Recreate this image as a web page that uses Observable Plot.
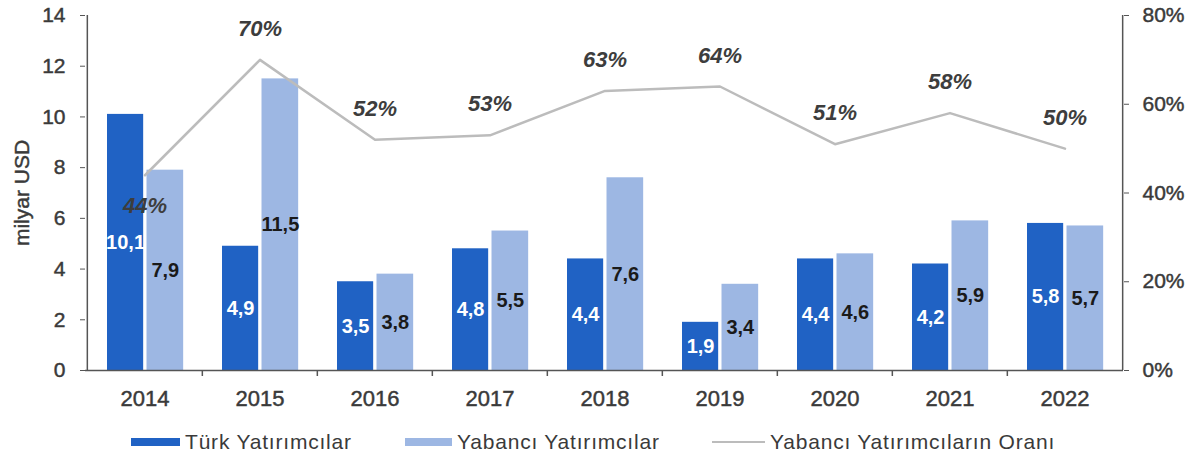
<!DOCTYPE html>
<html><head><meta charset="utf-8">
<script src="https://cdn.jsdelivr.net/npm/d3@7"></script>
<script src="https://cdn.jsdelivr.net/npm/@observablehq/plot@0.6"></script>
<style>
body{margin:0;background:#fff;font-family:"Liberation Sans",Arial,sans-serif;}
#wrap{position:relative;width:1200px;height:463px;overflow:hidden;}
#legend .item{position:absolute;top:430px;height:24px;display:flex;align-items:center;font-size:21px;color:#3a3a3a;letter-spacing:0.8px;white-space:nowrap;}
#legend .sw{display:inline-block;margin-right:5px;}
svg [aria-label$="tick label"] text, svg [aria-label$="axis label"] text {stroke:#3a3a3a;stroke-width:0.45px;}
</style></head><body><div id="wrap"><div id="chart"></div><div id="legend"></div></div>
<script>
const years = ["2014","2015","2016","2017","2018","2019","2020","2021","2022"];
const turk = [10.1, 4.9, 3.5, 4.8, 4.4, 1.9, 4.4, 4.2, 5.8];
const yabanci = [7.9, 11.5, 3.8, 5.5, 7.6, 3.4, 4.6, 5.9, 5.7];
const oran = [44, 70, 52, 53, 63, 64, 51, 58, 50];
const leftTicks = [0, 2, 4, 6, 8, 10, 12, 14];
const rightTicks = [0, 20, 40, 60, 80];
const seriesNames = ["Türk Yatırımcılar", "Yabancı Yatırımcılar", "Yabancı Yatırımcıların Oranı"];
const colors = ["#2062c4", "#9db7e3", "#bcbcbc"];
const yLabel = "milyar USD";

const W = 1200, H = 410, mL = 85, mR = 77, mT = 15, mB = 40;
const bw = (W - mL - mR) / years.length;
const k = 14 / 80;
const pxToY = 14 / (H - mT - mB);
const rows = years.map((y, i) => ({year: y, turk: turk[i], yab: yabanci[i], oran: oran[i], oranY: oran[i] * k}));
const fmt = v => v.toFixed(1).replace(".", ",");
const axisColor = "#555";
const textColor = "#3a3a3a";

const chart = Plot.plot({
  width: W, height: H, marginLeft: mL, marginRight: mR, marginTop: mT, marginBottom: mB,
  style: {fontFamily: '"Liberation Sans", Arial, sans-serif', fontSize: "21px", color: textColor, background: "#fff", overflow: "visible"},
  x: {type: "band", domain: years, padding: 0},
  y: {domain: [0, 14]},
  marks: [
    Plot.barY(rows, {x: "year", y: "turk", fill: colors[0], insetLeft: 20, insetRight: bw - 56.5}),
    Plot.barY(rows, {x: "year", y: "yab", fill: colors[1], insetLeft: 59.5, insetRight: bw - 96.5}),
    Plot.line(rows, {x: "year", y: "oranY", stroke: colors[2], strokeWidth: 2.5}),
    Plot.text(rows, {x: "year", y: d => d.turk / 2, text: d => fmt(d.turk), dx: (20 + 56.5) / 2 - bw / 2, fill: "#fff", fontWeight: "bold", fontSize: 20}),
    Plot.text(rows, {x: "year", y: d => d.yab / 2, text: d => fmt(d.yab), dx: (59.5 + 96.5) / 2 - bw / 2, fill: "#1a1a1a", fontWeight: "bold", fontSize: 20}),
    Plot.text(rows.filter(d => d.year === years[0]), {x: "year", y: "oranY", text: d => d.oran + "%", dy: 31, fill: "#3d3d3d", fontWeight: "bold", fontStyle: "italic", fontSize: 22}),
    Plot.text(rows.filter(d => d.year !== years[0]), {x: "year", y: "oranY", text: d => d.oran + "%", dy: -31, fill: "#3d3d3d", fontWeight: "bold", fontStyle: "italic", fontSize: 22}),
    Plot.ruleY([0], {stroke: axisColor, strokeWidth: 1.5}),
    Plot.ruleX([years[0]], {dx: -bw / 2, stroke: axisColor, strokeWidth: 1.5}),
    Plot.ruleX([years[years.length - 1]], {dx: bw / 2, stroke: axisColor, strokeWidth: 1.5}),
    Plot.ruleX(years.slice(1), {dx: -bw / 2, y1: 0, y2: -6 * pxToY, stroke: axisColor, strokeWidth: 1.5}),
    Plot.axisY({anchor: "left", ticks: leftTicks, tickSize: 5, tickPadding: 15, stroke: axisColor, fill: textColor, fontSize: 21, label: yLabel, labelAnchor: "center", labelOffset: 71, labelArrow: false}),
    Plot.axisY({anchor: "right", ticks: rightTicks.map(v => v * k), tickFormat: d => Math.round(d / k) + "%", tickSize: 5, tickPadding: 14, stroke: axisColor, fill: textColor, fontSize: 21, label: null}),
    Plot.axisX({tickSize: 0, tickPadding: 20, fill: textColor, fontSize: 22, label: null})
  ]
});
document.getElementById("chart").appendChild(chart);

const legend = document.getElementById("legend");
const legendPos = [[131, 49], [405, 47], [712, 53]];
seriesNames.forEach((name, i) => {
  const item = document.createElement("div");
  item.className = "item";
  item.style.left = legendPos[i][0] + "px";
  const sw = document.createElement("span");
  sw.className = "sw";
  sw.style.width = legendPos[i][1] + "px";
  sw.style.height = i < 2 ? "8px" : "2.5px";
  sw.style.background = colors[i];
  item.appendChild(sw);
  const t = document.createElement("span");
  t.textContent = name;
  item.appendChild(t);
  legend.appendChild(item);
});
</script></body></html>
